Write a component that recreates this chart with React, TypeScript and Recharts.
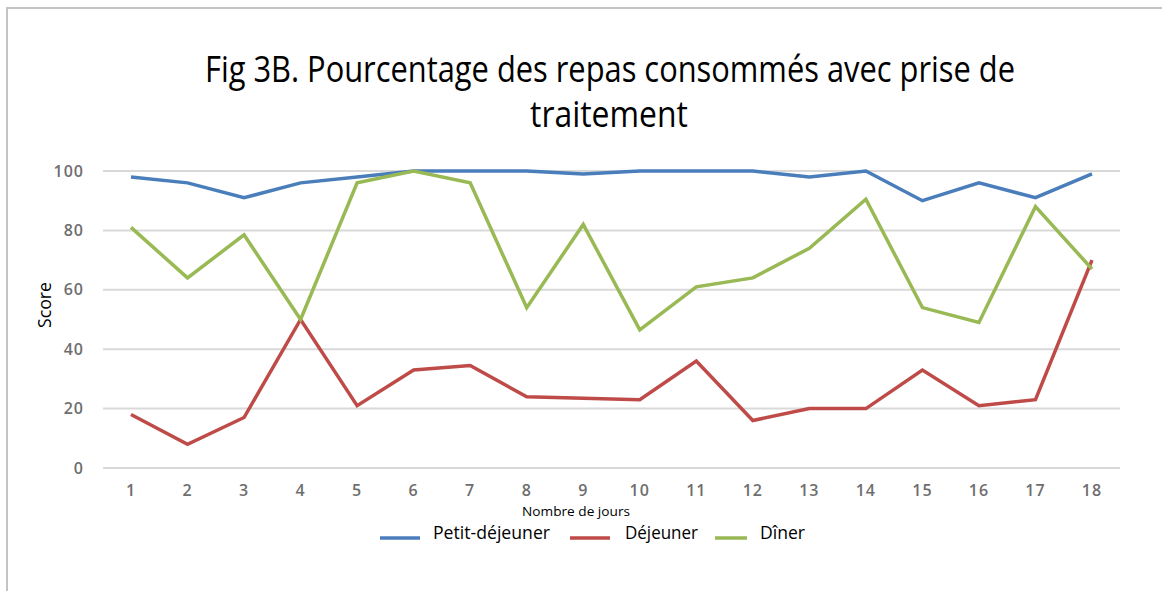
import React from "react";
import { LineChart, Line, XAxis, YAxis, CartesianGrid } from "recharts";

const days = ["1","2","3","4","5","6","7","8","9","10","11","12","13","14","15","16","17","18"];
const petitDejeuner = [98, 96, 91, 96, 98, 100, 100, 100, 99, 100, 100, 100, 98, 100, 90, 96, 91, 99];
const dejeuner = [18, 8, 17, 50, 21, 33, 34.5, 24, 23.5, 23, 36, 16, 20, 20, 33, 21, 23, 70];
const diner = [81, 64, 78.5, 50, 96, 100, 96, 54, 82, 46.5, 61, 64, 74, 90.5, 54, 49, 88, 67];
const yTicks = [0, 20, 40, 60, 80, 100];
const seriesNames = ["Petit-déjeuner", "Déjeuner", "Dîner"];
const seriesColors = ["#4a7ebb", "#be4b48", "#98b954"];
const titleLines = ["Fig 3B. Pourcentage des repas consommés avec prise de", "traitement"];
const xLabel = "Nombre de jours";
const yLabel = "Score";

const data = days.map((d, i) => ({
  day: d,
  pd: petitDejeuner[i],
  dj: dejeuner[i],
  dn: diner[i],
}));

const narrow = "'Liberation Sans Narrow', 'Open Sans', sans-serif";
const tickStyle = { fontFamily: "'Open Sans', sans-serif", fontSize: 16, fontWeight: 600, fill: "#6e6e6e", letterSpacing: 1 };

const legendItems = [
  { line: [380, 420], text: 433, len: 117 },
  { line: [570, 610], text: 625, len: 73 },
  { line: [715, 747], text: 760, len: 45 },
];

export default function App() {
  return (
    <div style={{ position: "absolute", left: 0, top: 0, width: 1162, height: 591, background: "#fff", overflow: "hidden" }}>
      <div style={{ position: "absolute", left: 6, top: 7, width: 1156, height: 584, borderLeft: "2px solid #c4c4c4", borderTop: "2px solid #c4c4c4", boxSizing: "border-box" }} />
      <div style={{ position: "absolute", left: 0, top: 0 }}>
        <LineChart width={1162} height={591} data={data} margin={{ top: 171, right: 42, bottom: 93, left: 43 }}>
          <CartesianGrid vertical={false} stroke="#d9d9d9" strokeWidth={2} />
          <XAxis
            dataKey="day"
            height={30}
            axisLine={false}
            tickLine={false}
            tickSize={0}
            tickMargin={17}
            padding={{ left: 28, right: 28 }}
            tick={tickStyle}
            interval={0}
          />
          <YAxis
            width={60}
            domain={[0, 100]}
            ticks={yTicks}
            axisLine={false}
            tickLine={false}
            tickSize={0}
            tickMargin={19}
            tick={tickStyle}
          />
          <Line dataKey="pd" name={seriesNames[0]} stroke={seriesColors[0]} strokeWidth={3.5} dot={false} isAnimationActive={false} />
          <Line dataKey="dj" name={seriesNames[1]} stroke={seriesColors[1]} strokeWidth={3.5} dot={false} isAnimationActive={false} />
          <Line dataKey="dn" name={seriesNames[2]} stroke={seriesColors[2]} strokeWidth={3.5} dot={false} isAnimationActive={false} />
        </LineChart>
      </div>
      <svg width={1162} height={591} style={{ position: "absolute", left: 0, top: 0, pointerEvents: "none" }}>
        <text x={610} y={82} textAnchor="middle" fontFamily={narrow} fontSize={36} fill="#000" textLength={810} lengthAdjust="spacingAndGlyphs">
          {titleLines[0]}
        </text>
        <text x={609} y={127} textAnchor="middle" fontFamily={narrow} fontSize={36} fill="#000" textLength={158} lengthAdjust="spacingAndGlyphs">
          {titleLines[1]}
        </text>
        <text x={0} y={0} transform="translate(51,305) rotate(-90)" textAnchor="middle" fontFamily={narrow} fontSize={19} fill="#000" textLength={46} lengthAdjust="spacingAndGlyphs">
          {yLabel}
        </text>
        <text x={576} y={516} textAnchor="middle" fontFamily={narrow} fontSize={13} fill="#000" textLength={108} lengthAdjust="spacingAndGlyphs">
          {xLabel}
        </text>
        {legendItems.map((it, i) => (
          <g key={i}>
            <line x1={it.line[0]} x2={it.line[1]} y1={538} y2={538} stroke={seriesColors[i]} strokeWidth={3.5} />
            <text x={it.text} y={539} fontFamily={narrow} fontSize={19} fill="#000" textLength={it.len} lengthAdjust="spacingAndGlyphs">
              {seriesNames[i]}
            </text>
          </g>
        ))}
      </svg>
    </div>
  );
}
